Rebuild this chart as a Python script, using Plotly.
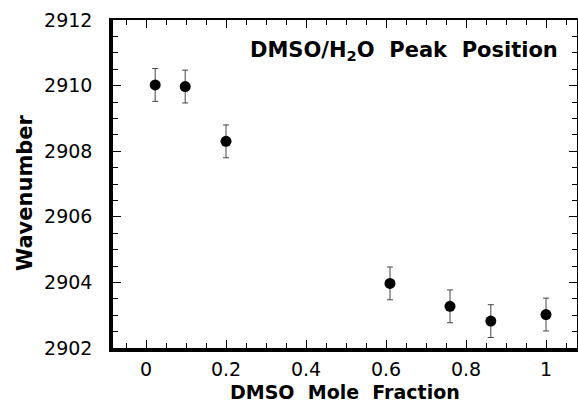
import plotly.graph_objects as go

mole_fraction = [0.023, 0.098, 0.20, 0.61, 0.76, 0.862, 1.0]
wavenumber = [2910.02, 2909.97, 2908.30, 2903.97, 2903.27, 2902.82, 2903.02]
err = [0.5, 0.5, 0.5, 0.5, 0.5, 0.5, 0.5]

x_ticks = [0, 0.2, 0.4, 0.6, 0.8, 1]
x_tick_labels = ["0", "0.2", "0.4", "0.6", "0.8", "1"]
y_ticks = [2902, 2904, 2906, 2908, 2910, 2912]
y_tick_labels = [str(v) for v in y_ticks]

FONT = "DejaVu Sans, Arial, sans-serif"

fig = go.Figure()
fig.add_trace(go.Scatter(
    x=mole_fraction, y=wavenumber, mode="markers",
    marker=dict(color="black", size=11),
    error_y=dict(type="data", array=err, visible=True, color="#444",
                 thickness=1, width=3),
    showlegend=False,
))
# invisible trace to anchor the top/right frame axes
fig.add_trace(go.Scatter(x=mole_fraction, y=wavenumber, xaxis="x2", yaxis="y2",
                         mode="markers", marker=dict(opacity=0),
                         showlegend=False, hoverinfo="skip"))

xr = [-0.0825, 1.0775]
yr = [2902, 2912]

fig.update_layout(
    width=578, height=402,
    margin=dict(l=113, r=1, t=20, b=54),
    paper_bgcolor="white", plot_bgcolor="white",
    font=dict(family=FONT, color="black"),
    xaxis=dict(range=xr, tickvals=x_ticks, ticktext=x_tick_labels,
               showgrid=False, zeroline=False, showline=True, linewidth=3.5,
               linecolor="black", ticks="inside", ticklen=8, tickwidth=1,
               tickcolor="black", tickfont=dict(size=19),
               ticklabelstandoff=1,
               minor=dict(dtick=0.05, tick0=0, ticks="inside", ticklen=5,
                          tickwidth=1, tickcolor="black", showgrid=False)),
    yaxis=dict(range=yr, tickvals=y_ticks, ticktext=y_tick_labels,
               showgrid=False, zeroline=False, showline=True, linewidth=3.5,
               linecolor="black", ticks="inside", ticklen=8, tickwidth=1,
               tickcolor="black", tickfont=dict(size=19),
               ticklabelstandoff=13,
               minor=dict(dtick=0.5, tick0=2902, ticks="inside", ticklen=5,
                          tickwidth=1, tickcolor="black", showgrid=False)),
    xaxis2=dict(range=xr, overlaying="x", side="top", tickvals=x_ticks,
                showticklabels=False, showgrid=False, zeroline=False,
                showline=True, linewidth=2, linecolor="black",
                ticks="inside", ticklen=8, tickwidth=1, tickcolor="black",
                minor=dict(dtick=0.05, tick0=0, ticks="inside", ticklen=5,
                           tickwidth=1, tickcolor="black", showgrid=False)),
    yaxis2=dict(range=yr, overlaying="y", side="right", tickvals=y_ticks,
                showticklabels=False, showgrid=False, zeroline=False,
                showline=True, linewidth=2, linecolor="black",
                ticks="inside", ticklen=8, tickwidth=1, tickcolor="black",
                minor=dict(dtick=0.5, tick0=2902, ticks="inside", ticklen=5,
                           tickwidth=1, tickcolor="black", showgrid=False)),
    annotations=[
        dict(text="<b>DMSO/H<sub>2</sub>O  Peak  Position</b>",
             xref="paper", yref="paper", x=0.964, y=0.905,
             xanchor="right", yanchor="middle", showarrow=False,
             font=dict(size=21, family=FONT, color="black")),
        dict(text="<b>Wavenumber</b>", textangle=-90,
             xref="paper", yref="paper", x=0, y=0.4726, xshift=-88,
             xanchor="center", yanchor="middle", showarrow=False,
             font=dict(size=21, family=FONT, color="black")),
        dict(text="<b>DMSO  Mole  Fraction</b>",
             xref="paper", yref="paper", x=0.5, y=0, yshift=-44,
             xanchor="center", yanchor="middle", showarrow=False,
             font=dict(size=19, family=FONT, color="black")),
    ],
)

fig.write_html("out.html")
